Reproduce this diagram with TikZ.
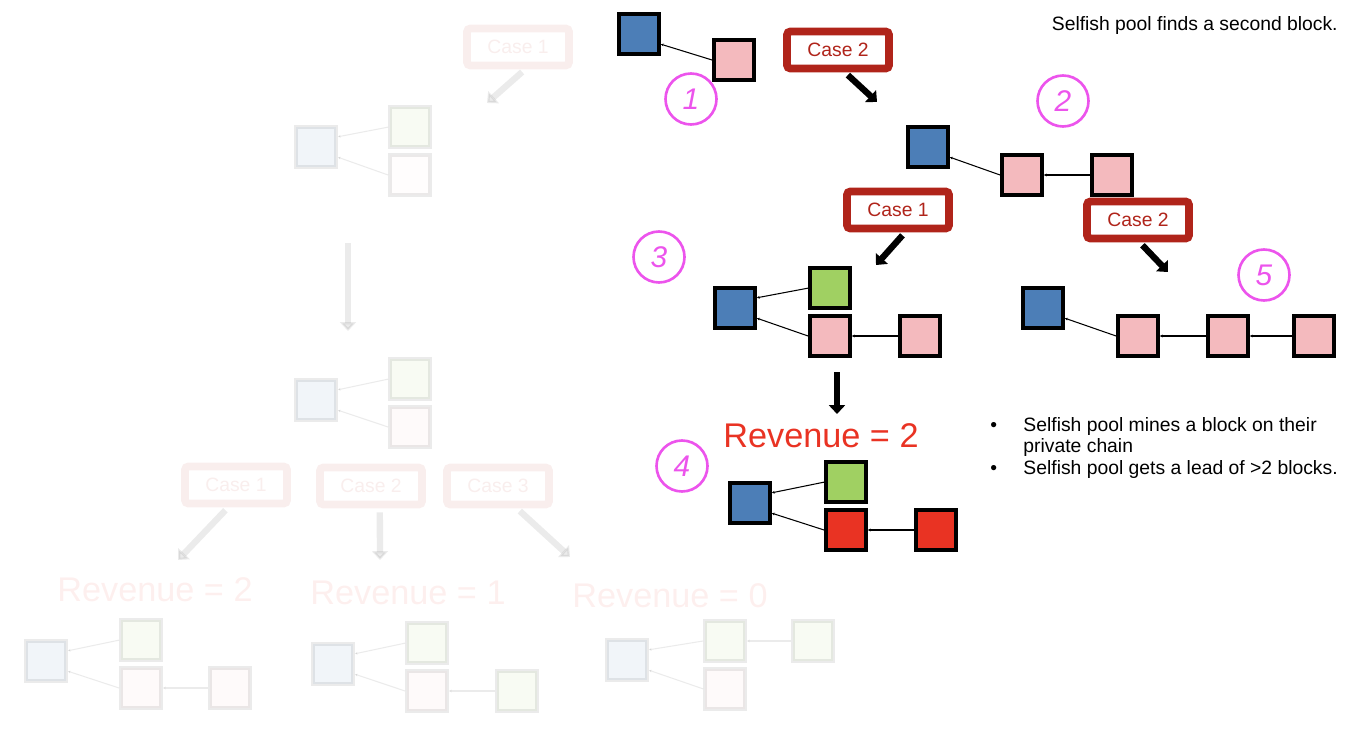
\documentclass[tikz,border=0pt]{standalone}
\usepackage{fontspec}
\setmainfont{Liberation Sans}
\usetikzlibrary{arrows.meta, positioning}

\definecolor{genesisblue}{RGB}{76,126,183}
\definecolor{selfpink}{RGB}{244,186,190}
\definecolor{honestgreen}{RGB}{160,208,98}
\definecolor{wonred}{RGB}{233,51,35}
\definecolor{casered}{RGB}{176,36,26}
\definecolor{markpink}{RGB}{236,84,236}

\begin{document}
\begin{tikzpicture}[
        x=0.02cm, y=-0.02cm,
        block/.style={
            rectangle,
            draw=black,
            line width=2.2pt,
            minimum size=0.8cm,
            inner sep=0pt
        },
        genesis/.style={block, fill=genesisblue},
        selfish/.style={block, fill=selfpink},
        honest/.style={block, fill=honestgreen},
        won/.style={block, fill=wonred},
        casebox/.style={
            rectangle,
            draw=casered,
            line width=4.5pt,
            fill=white,
            rounded corners=2pt,
            minimum width=2.04cm,
            minimum height=0.74cm,
            text=casered,
            font=\fontsize{11}{12}\selectfont
        },
        link/.style={
            -{Stealth[length=1.6pt, width=1.6pt]},
            line width=0.6pt
        },
        bigarrow/.style={
            -{Triangle[length=5pt, width=9pt]},
            line width=3.6pt
        },
        stepmark/.style={
            circle,
            draw=markpink,
            line width=1.5pt,
            minimum size=1.02cm,
            inner sep=0pt,
            text=markpink,
            font=\fontsize{17}{17}\selectfont\itshape
        },
        revenue/.style={
            text=wonred,
            font=\fontsize{19.5}{22}\selectfont
        }
    ]

    \useasboundingbox (0,0) rectangle (1355,733);

    % Faded earlier steps
    \begin{scope}[opacity=0.08]
        \node[casebox] (oldcase) at (518,47) {Case 1};
        \node[genesis] (a0) at (316,147) {};
        \node[selfish, fill=selfpink!35] (a2) at (410,175) {};
        \node[honest, above=0.08cm of a2] (a1) {};
        \draw[link] (a1.west) -- (a0.25);
        \draw[link] (a2.west) -- (a0.-25);
        \coordinate (oldtip) at (487,103);
        \draw[bigarrow, shorten <=2.2pt] ([xshift=4pt]oldcase.south) -- (oldtip);

        \coordinate (vtop) at (348,243);
        \coordinate (vtip) at (348,331);
        \draw[bigarrow] (vtop) -- (vtip);

        \node[genesis] (b0) at (316,400) {};
        \node[selfish] (b2) at (410,427) {};
        \node[honest, above=0.08cm of b2] (b1) {};
        \draw[link] (b1.west) -- (b0.25);
        \draw[link] (b2.west) -- (b0.-25);

        \node[casebox] (oldcase1) at (236,485) {Case 1};
        \node[casebox] (oldcase2) at (371,486) {Case 2};
        \node[casebox] (oldcase3) at (498,486) {Case 3};
        \coordinate (tip1) at (178,560);
        \coordinate (tip2) at (380,560);
        \coordinate (tip3) at (570,557);
        \draw[bigarrow, shorten <=2.2pt] ([xshift=-4.5pt]oldcase1.south) -- (tip1);
        \draw[bigarrow, shorten <=2.2pt] ([xshift=5pt]oldcase2.south) -- (tip2);
        \draw[bigarrow, shorten <=2.2pt] ([xshift=10.8pt]oldcase3.south) -- (tip3);

        \node[revenue] (rev2) at (155,590) {Revenue = 2};
        \node[revenue] (rev1) at (408,593) {Revenue = 1};
        \node[revenue] (rev0) at (670,596) {Revenue = 0};

        % Revenue 2
        \node[genesis] (c0) at (46,661) {};
        \node[selfish] (c2) at (141,688) {};
        \node[honest, above=0.08cm of c2] (c1) {};
        \node[selfish, right=0.9cm of c2] (c3) {};
        \draw[link] (c1.west) -- (c0.25);
        \draw[link] (c2.west) -- (c0.-25);
        \draw[link] (c3.west) -- (c2.east);

        % Revenue 1
        \node[genesis] (d0) at (333,664) {};
        \node[selfish] (d2) at (427,691) {};
        \node[honest, above=0.08cm of d2] (d1) {};
        \node[honest, right=0.92cm of d2] (d3) {};
        \draw[link] (d1.west) -- (d0.25);
        \draw[link] (d2.west) -- (d0.-25);
        \draw[link] (d3.west) -- (d2.east);

        % Revenue 0
        \node[genesis] (e0) at (627,660) {};
        \node[honest] (e1) at (725,641) {};
        \node[selfish, below=0.08cm of e1] (e2) {};
        \node[honest, right=0.88cm of e1] (e3) {};
        \draw[link] (e1.west) -- (e0.25);
        \draw[link] (e2.west) -- (e0.-25);
        \draw[link] (e3.west) -- (e1.east);
    \end{scope}

    % Step 1
    \node[genesis] (s1a) at (639,34) {};
    \node[selfish] (s1b) at (734,60) {};
    \draw[link] (s1b.west) -- (s1a.-25);
    \node[stepmark] (m1) at (691,99) {1};

    \node[casebox] (case2top) at (838,50) {Case 2};
    \coordinate (tip2top) at (877,102);
    \draw[bigarrow, shorten <=2.2pt] ([xshift=4pt]case2top.south) -- (tip2top);

    % Step 2
    \node[genesis] (s2a) at (928,147) {};
    \node[selfish] (s2b) at (1022,175) {};
    \node[selfish, right=0.92cm of s2b] (s2c) {};
    \draw[link] (s2b.west) -- (s2a.-25);
    \draw[link] (s2c.west) -- (s2b.east);
    \node[stepmark] (m2) at (1063,101) {2};

    \node[casebox] (case1mid) at (898,210) {Case 1};
    \coordinate (tip1mid) at (876,265);
    \draw[bigarrow, shorten <=2.2pt] ([xshift=4pt]case1mid.south) -- (tip1mid);

    \node[casebox] (case2mid) at (1138,220) {Case 2};
    \coordinate (tip2mid) at (1168,272);
    \draw[bigarrow, shorten <=2.2pt] ([xshift=1pt]case2mid.south) -- (tip2mid);

    % Step 3
    \node[genesis] (s3a) at (735,308) {};
    \node[selfish] (s3c) at (830,336) {};
    \node[honest, above=0.08cm of s3c] (s3b) {};
    \node[selfish, right=0.92cm of s3c] (s3d) {};
    \draw[link] (s3b.west) -- (s3a.25);
    \draw[link] (s3c.west) -- (s3a.-25);
    \draw[link] (s3d.west) -- (s3c.east);
    \node[stepmark] (m3) at (659,257) {3};

    \coordinate (dtop) at (837,372);
    \coordinate (dtip) at (837,414);
    \draw[bigarrow] (dtop) -- (dtip);

    % Step 4
    \node[revenue] (rev) at (821,436) {Revenue = 2};
    \node[genesis] (s4a) at (750,503) {};
    \node[won] (s4c) at (846,530) {};
    \node[honest, above=0.08cm of s4c] (s4b) {};
    \node[won, right=0.92cm of s4c] (s4d) {};
    \draw[link] (s4b.west) -- (s4a.25);
    \draw[link] (s4c.west) -- (s4a.-25);
    \draw[link] (s4d.west) -- (s4c.east);
    \node[stepmark] (m4) at (682,466) {4};

    % Step 5
    \node[genesis] (s5a) at (1043,308) {};
    \node[selfish] (s5b) at (1138,336) {};
    \node[selfish, right=0.92cm of s5b] (s5c) {};
    \node[selfish, right=0.84cm of s5c] (s5d) {};
    \draw[link] (s5b.west) -- (s5a.-25);
    \draw[link] (s5c.west) -- (s5b.east);
    \draw[link] (s5d.west) -- (s5c.east);
    \node[stepmark] (m5) at (1264,275) {5};

    % Notes
    \node[anchor=base east, inner sep=0pt, font=\fontsize{11}{13}\selectfont] (title) at (1338,31) {Selfish pool finds a second block.};
    \node[anchor=north west, inner sep=0pt, font=\fontsize{11}{12.2}\selectfont] (notes) at (990,416) {%
        \begin{tabular}{@{}l@{\hspace{15pt}}l@{}}
            • & Selfish pool mines a block on their\\
              & private chain\\
            • & Selfish pool gets a lead of >2 blocks.
        \end{tabular}};

\end{tikzpicture}
\end{document}
